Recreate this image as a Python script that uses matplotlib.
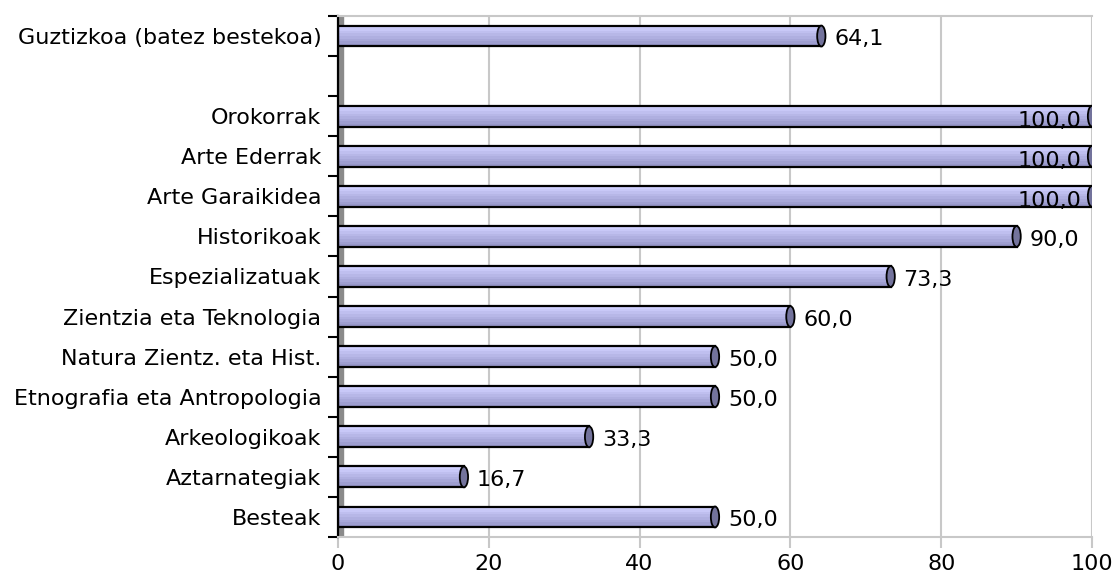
import matplotlib.pyplot as plt
import numpy as np
from matplotlib.patches import Ellipse
from matplotlib.colors import to_rgb

categories = ["Guztizkoa (batez bestekoa)", "", "Orokorrak", "Arte Ederrak", "Arte Garaikidea",
              "Historikoak", "Espezializatuak", "Zientzia eta Teknologia",
              "Natura Zientz. eta Hist.", "Etnografia eta Antropologia", "Arkeologikoak",
              "Aztarnategiak", "Besteak"]
values = [64.1, np.nan, 100.0, 100.0, 100.0, 90.0, 73.3, 60.0, 50.0, 50.0, 33.3, 16.7, 50.0]
xticks = [0, 20, 40, 60, 80, 100]

plt.rcParams['font.family'] = ['DejaVu Sans']
fs = 16
fig = plt.figure(figsize=(11.13, 5.74), dpi=100)
ax = fig.add_axes([338/1113, 1 - 537/574, (1092 - 338)/1113, (537 - 16)/574])

ypos = np.arange(len(categories))
h = 0.52
n = 8
top_c = np.array(to_rgb('#d0d0ff'))
bot_c = np.array(to_rgb('#9696c8'))

# left wall and grid
ax.axvspan(0, 0.65, color='#8a8a8a', zorder=1)
for gx in xticks[1:]:
    ax.axvline(gx, color='#c8c8c8', lw=1.5, zorder=0)

for i, v in enumerate(values):
    if np.isnan(v):
        continue
    # cylinder body as stacked stripes
    for k in range(n):
        frac = k / (n - 1)
        c = top_c * (1 - frac) + bot_c * frac
        off = -h / 2 + (k + 0.5) * h / n
        ax.barh(ypos[i] + off, v, height=h / n, color=c, zorder=2, linewidth=0)
    ax.barh(ypos[i], v, height=h, fill=False, edgecolor='black', lw=1.6, zorder=3)
    ax.add_patch(Ellipse((v, ypos[i]), width=1.1, height=h, facecolor='#73739c',
                         edgecolor='black', lw=1.3, zorder=4))
    lbl = f"{v:.1f}".replace('.', ',')
    if v >= 95:
        ax.text(98.6, ypos[i] + 0.12, lbl, ha='right', va='center', fontsize=fs, zorder=5)
    else:
        ax.text(v + 1.7, ypos[i] + 0.08, lbl, ha='left', va='center', fontsize=fs, zorder=5)

ax.set_xlim(0, 100)
ax.set_ylim(len(categories) - 0.5, -0.5)
ax.set_xticks(xticks)
ax.set_xticklabels([str(t) for t in xticks], fontsize=fs)
ax.set_yticks(ypos)
ax.set_yticklabels(categories, fontsize=fs)
ax.set_yticks(np.arange(len(categories) + 1) - 0.5, minor=True)
ax.tick_params(axis='y', which='major', length=0, pad=12)
ax.tick_params(axis='y', which='minor', length=7, width=1.5, color='black', direction='out')
ax.tick_params(axis='x', length=8, width=1.5, color='#c8c8c8', pad=4)

ax.spines['left'].set_color('black')
ax.spines['left'].set_linewidth(1.6)
ax.spines['right'].set_visible(False)
ax.spines['top'].set_color('#c8c8c8')
ax.spines['top'].set_linewidth(1.5)
ax.spines['bottom'].set_color('#c8c8c8')
ax.spines['bottom'].set_linewidth(1.5)

plt.savefig("out.png", dpi=100)
